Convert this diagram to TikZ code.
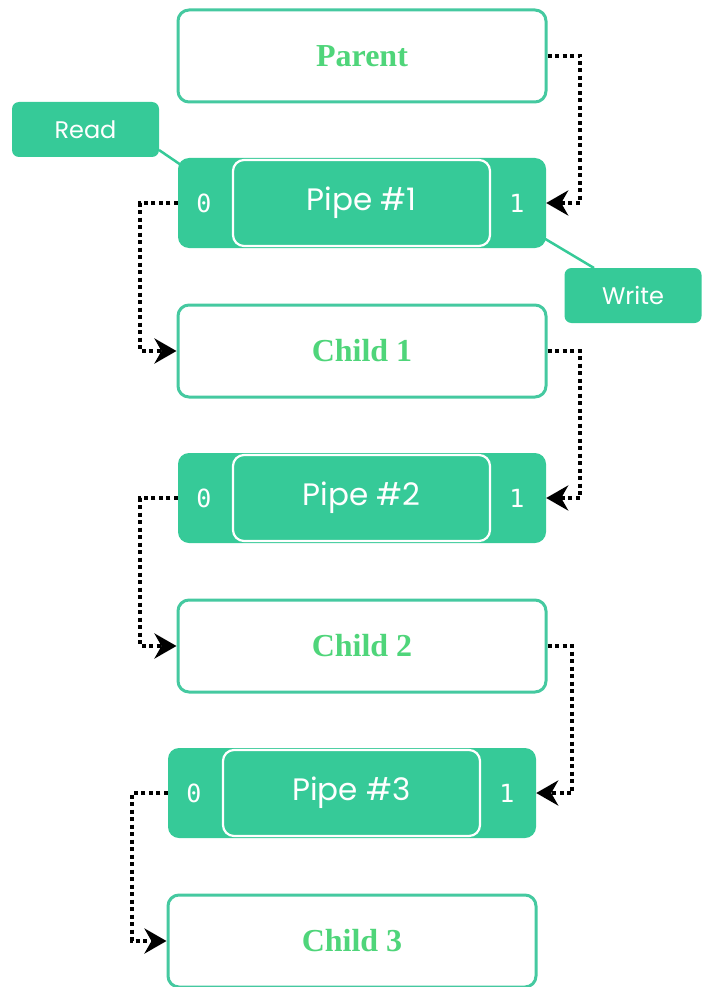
\documentclass[tikz,border=0pt]{standalone}
\usepackage{fontspec}
\setmainfont{Liberation Serif}
\newfontfamily\pipefont{Poppins}
\newfontfamily\digitfont{DejaVu Sans Mono}
\usetikzlibrary{arrows.meta}
\definecolor{teal}{HTML}{36CA98}
\definecolor{edge}{HTML}{45C9A0}
\definecolor{lbl}{HTML}{4FD57A}
\tikzset{
  x=1pt,y=-1pt,
  proc/.style={draw=edge,line width=3pt,rounded corners=11pt,fill=white,minimum width=368pt,minimum height=92pt,inner sep=0pt,font=\bfseries\fontsize{32}{32}\selectfont,text=lbl},
  pipeouter/.style={fill=teal,rounded corners=11pt,minimum width=368pt,minimum height=90pt,inner sep=0pt},
  pipeinner/.style={draw=white,line width=2.2pt,fill=teal,rounded corners=11pt,minimum width=257pt,minimum height=86pt,inner sep=0pt,text=white,font=\pipefont\fontsize{31}{31}\selectfont},
  digit/.style={text=white,font=\digitfont\fontsize{25}{25}\selectfont,inner sep=0pt},
  tag/.style={fill=teal,rounded corners=7pt,inner sep=0pt,text=white,font=\pipefont\fontsize{24}{24}\selectfont},
  flow/.style={line width=4pt,dash pattern=on 4pt off 3.5pt,-{Stealth[length=22pt,width=25pt,inset=7pt]},line cap=butt},
  tagline/.style={draw=teal,line width=2.5pt}
}
\begin{document}
\begin{tikzpicture}
\useasboundingbox (0,0) rectangle (701,987);
% boxes
\node[proc] (parent) at (362,56) {Parent};
\node[pipeouter] (p1) at (362,203) {};
\node[pipeinner] (p1in) at (361.5,203) {Pipe \#1};
\node[digit] (p1l) at (204,203) {0};
\node[digit] (p1r) at (517,203) {1};
\node[proc] (c1) at (362,351) {Child 1};
\node[pipeouter] (p2) at (362,498) {};
\node[pipeinner] (p2in) at (361.5,498) {Pipe \#2};
\node[digit] (p2l) at (204,498) {0};
\node[digit] (p2r) at (517,498) {1};
\node[proc] (c2) at (362,646) {Child 2};
\node[pipeouter] (p3) at (352,793) {};
\node[pipeinner] (p3in) at (351.5,793) {Pipe \#3};
\node[digit] (p3l) at (194,793) {0};
\node[digit] (p3r) at (507,793) {1};
\node[proc] (c3) at (352,941) {Child 3};
% tags
\node[tag,minimum width=147pt,minimum height=55pt] (read) at (85.5,129.5) {Read};
\node[tag,minimum width=137pt,minimum height=55pt] (write) at (633,295.5) {Write};
\coordinate (rc) at (159,150);
\coordinate (rp) at (181,165);
\draw[tagline] (rc) -- (rp);
\coordinate (wp) at (542,237);
\coordinate (wc) at (594,268);
\draw[tagline] (wp) -- (wc);
% flows
\draw[flow] (parent.east) -| (580,203) -- (p1.east);
\draw[flow] (p1.west) -| (140,351) -- (c1.west);
\draw[flow] (c1.east) -| (580,498) -- (p2.east);
\draw[flow] (p2.west) -| (140,646) -- (c2.west);
\draw[flow] (c2.east) -| (572,793) -- (p3.east);
\draw[flow] (p3.west) -| (132,941) -- (c3.west);
\end{tikzpicture}
\end{document}
